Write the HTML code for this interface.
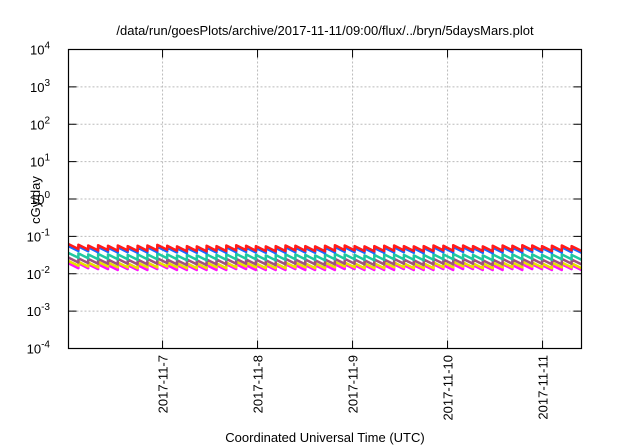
<!DOCTYPE html>
<html><head><meta charset="utf-8"><style>
body{margin:0;background:#fff}
svg{display:block;font-family:"Liberation Sans",sans-serif}
</style></head><body>
<svg id="chart" width="640" height="448">
<text x="325" y="35" text-anchor="middle" font-size="13">/data/run/goesPlots/archive/2017-11-11/09:00/flux/../bryn/5daysMars.plot</text>
<text x="325" y="442" text-anchor="middle" font-size="13">Coordinated Universal Time (UTC)</text>
<text transform="translate(40,200) rotate(-90)" text-anchor="middle" font-size="13">cGy/day</text>
<g id="grid"></g><g id="series"></g><g id="axes"></g>
</svg>
<script>
const yTickExps=[4,3,2,1,0,-1,-2,-3,-4];
const xTickDays=[0,1,2,3,4];
const xTickLabels=["2017-11-7","2017-11-8","2017-11-9","2017-11-10","2017-11-11"];
const seriesColors=["#ff1a1a","#1a66ff","#20c8a0","#a05080","#e8e000","#ff10ff"];
const red=[0.062,0.060,0.057,0.058,0.056,0.057,0.055,0.056,0.057,0.059,0.056,0.054,0.055,0.054,0.056,0.055,0.057,0.058,0.056,0.055,0.054,0.055,0.057,0.056,0.055,0.054,0.056,0.058,0.057,0.055,0.054,0.055,0.056,0.057,0.055,0.054,0.055,0.057,0.056,0.058,0.057,0.055,0.054,0.056,0.057,0.056,0.058,0.057,0.055,0.056,0.057,0.055];
const blue=[0.055,0.054,0.051,0.052,0.050,0.051,0.049,0.050,0.051,0.053,0.050,0.048,0.049,0.048,0.050,0.049,0.051,0.052,0.050,0.049,0.048,0.049,0.051,0.050,0.049,0.048,0.050,0.052,0.051,0.049,0.048,0.049,0.050,0.051,0.049,0.048,0.049,0.051,0.050,0.052,0.051,0.049,0.048,0.050,0.051,0.050,0.052,0.051,0.049,0.050,0.051,0.049];
const teal=[0.036,0.035,0.033,0.034,0.033,0.033,0.032,0.033,0.033,0.035,0.033,0.031,0.032,0.031,0.033,0.032,0.033,0.034,0.033,0.032,0.031,0.032,0.033,0.033,0.032,0.031,0.033,0.034,0.033,0.032,0.031,0.032,0.033,0.033,0.032,0.031,0.032,0.033,0.033,0.034,0.033,0.032,0.031,0.033,0.033,0.033,0.034,0.033,0.032,0.033,0.033,0.032];
const purple=[0.027,0.026,0.025,0.025,0.024,0.025,0.024,0.024,0.025,0.026,0.024,0.023,0.024,0.023,0.024,0.024,0.025,0.025,0.024,0.024,0.023,0.024,0.025,0.024,0.024,0.023,0.024,0.025,0.025,0.024,0.023,0.024,0.024,0.025,0.024,0.023,0.024,0.025,0.024,0.025,0.025,0.024,0.023,0.024,0.025,0.024,0.025,0.025,0.024,0.024,0.025,0.024];
const yellow=[0.022,0.021,0.020,0.021,0.020,0.020,0.019,0.020,0.020,0.021,0.020,0.019,0.019,0.019,0.020,0.019,0.020,0.021,0.020,0.019,0.019,0.019,0.020,0.020,0.019,0.019,0.020,0.021,0.020,0.019,0.019,0.019,0.020,0.020,0.019,0.019,0.019,0.020,0.020,0.021,0.020,0.019,0.019,0.020,0.020,0.020,0.021,0.020,0.019,0.020,0.020,0.019];
const magenta=[0.019,0.019,0.018,0.018,0.017,0.018,0.017,0.017,0.018,0.019,0.017,0.017,0.017,0.017,0.017,0.017,0.018,0.018,0.017,0.017,0.017,0.017,0.018,0.017,0.017,0.017,0.017,0.018,0.018,0.017,0.017,0.017,0.017,0.018,0.017,0.017,0.017,0.018,0.017,0.018,0.018,0.017,0.017,0.017,0.018,0.017,0.018,0.018,0.017,0.017,0.018,0.017];
const seriesData=[red,blue,teal,purple,yellow,magenta];
const seriesNames=["series-red","series-blue","series-teal","series-purple","series-yellow","series-magenta"];
const decayRatio=0.74;
const dayStart=-0.99, dayEnd=4.41;
const L=68.5,R=581.5,T=49.5,B=348.5;
const NS="http://www.w3.org/2000/svg";
function xs(d){return L+(d-dayStart)/(dayEnd-dayStart)*(R-L);}
function ys(v){return B-(Math.log10(v)+4)/8*(B-T);}
function mk(tag,attrs,parent){const e=document.createElementNS(NS,tag);for(const k in attrs)e.setAttribute(k,attrs[k]);parent.appendChild(e);return e;}
const grid=document.getElementById('grid'),axes=document.getElementById('axes'),ser=document.getElementById('series');
yTickExps.forEach(p=>{
  const y=ys(Math.pow(10,p));
  if(p<4&&p>-4){const g=mk('line',{x1:L,x2:R,y1:y,y2:y,stroke:'#bbb','stroke-dasharray':'2,2'},grid);
  
  }
  const t1=mk('line',{x1:L,x2:L+8,y1:y,y2:y,stroke:'#000'},axes);
  
  
  const t2=mk('line',{x1:R-8,x2:R,y1:y,y2:y,stroke:'#000'},axes);
  
  
  const tx=mk('text',{x:50,y:y+5,'text-anchor':'end','font-size':'13'},axes);
  
  
  tx.textContent='10';
  const sp=mk('tspan',{dy:-6,'font-size':'10'},tx);sp.textContent=String(p);
});
xTickDays.forEach((d,i)=>{
  const x=xs(d);
  const g=mk('line',{x1:x,x2:x,y1:T,y2:B,stroke:'#bbb','stroke-dasharray':'2,2'},grid);
  
  
  const t1=mk('line',{x1:x,x2:x,y1:B-8,y2:B,stroke:'#000'},axes);
  
  
  const t2=mk('line',{x1:x,x2:x,y1:T,y2:T+8,stroke:'#000'},axes);
  
  
  const tx=mk('text',{transform:`translate(${x+5},355) rotate(-90)`,'text-anchor':'end','font-size':'13'},axes);
  
  
  tx.textContent=xTickLabels[i];
});
const fr=mk('rect',{x:L,y:T,width:R-L,height:B-T,fill:'none',stroke:'#000','stroke-width':1.2},axes);


const order=[5,4,3,2,1,0];
order.forEach(si=>{
  const arr=seriesData[si];const n=arr.length;const step=(dayEnd-dayStart)/n;
  let d='';
  arr.forEach((v,i)=>{
    const t0=dayStart+i*step,t1=t0+step;
    d+=(i===0?'M':'L')+xs(t0).toFixed(1)+','+ys(v).toFixed(1)+' ';
    d+='L'+xs(t1).toFixed(1)+','+ys(v*decayRatio).toFixed(1)+' ';
  });
  const p=mk('path',{d:d,fill:'none',stroke:seriesColors[si],'stroke-width':2.5,'stroke-linejoin':'round'},ser);
  
  
});
</script>
</body></html>
